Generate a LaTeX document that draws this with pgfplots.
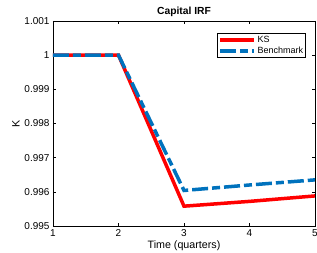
\documentclass[border=0pt]{standalone}
\usepackage{pgfplots}
\pgfplotsset{compat=1.18}
\usepackage{fontspec}
\setmainfont{Liberation Sans}
\definecolor{mblue}{rgb}{0,0.447,0.741}
\begin{document}
\begin{tikzpicture}[x=1pt,y=1pt]
\useasboundingbox (-53,-27) rectangle (264,226);
\begin{axis}[
  at={(0,0)}, anchor=south west,
  scale only axis, width=262pt, height=205pt,
  xmin=1, xmax=5, ymin=0.995, ymax=1.001,
  xtick={1,2,3,4,5},
  ytick={0.995,0.996,0.997,0.998,0.999,1,1.001},
  yticklabels={0.995,0.996,0.997,0.998,0.999,1,1.001},
  tick align=inside, tick pos=both,
  major tick length=3pt,
  tick style={black, line width=0.5pt},
  axis line style={line width=0.5pt},
  ticklabel style={font=\fontsize{10}{12}\selectfont},
  /pgf/number format/assume math mode=true,
  xlabel={Time (quarters)}, ylabel={K},
  label style={font=\fontsize{10.7}{13}\selectfont},
  xlabel style={yshift=3pt},
  ylabel style={yshift=-2pt},
  title={\textbf{Capital IRF}},
  title style={font=\fontsize{10.3}{12}\selectfont, yshift=-5pt},
  legend style={at={(0.965,0.94)}, anchor=north east, font=\fontsize{9}{9.5}\selectfont,
    draw=black, line width=0.5pt, inner sep=0.5pt, row sep=-1pt,
    /tikz/every even column/.append style={column sep=0pt}},
  legend cell align=left,
  legend image code/.code={\draw[#1] (0pt,0pt) -- (34pt,0pt);},
]
\addplot[red, line width=3.5pt] coordinates {(1,1) (2,1) (3,0.99558) (4,0.99572) (5,0.99588)};
\addlegendentry{KS}
\addplot[mblue, line width=3.5pt, dash pattern=on 16pt off 4pt on 8pt off 4pt] coordinates {(1,1) (2,1) (3,0.99604) (4,0.99620) (5,0.99635)};
\addlegendentry{Benchmark}
\end{axis}
\end{tikzpicture}
\end{document}
